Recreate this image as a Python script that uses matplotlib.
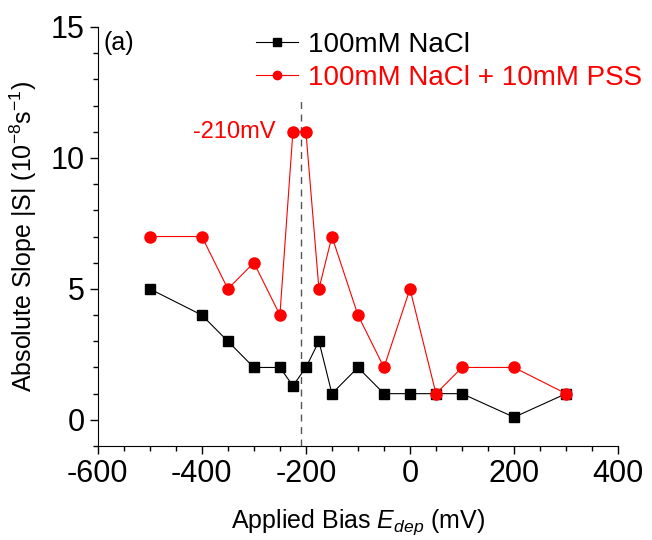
import numpy as np
import matplotlib.pyplot as plt
from matplotlib.ticker import MultipleLocator

plt.rcParams['font.family'] = ['Liberation Sans', 'DejaVu Sans']
plt.rcParams['mathtext.fontset'] = 'custom'
plt.rcParams['mathtext.it'] = 'Liberation Sans:italic'
plt.rcParams['mathtext.rm'] = 'Liberation Sans'
plt.rcParams['axes.unicode_minus'] = False

# data
bias = [-500, -400, -350, -300, -250, -225, -200, -175, -150, -100, -50, 0, 50, 100, 200, 300]
slope_nacl = [5, 4, 3, 2, 2, 1.3, 2, 3, 1, 2, 1, 1, 1, 1, 0.1, 1]
slope_pss = [7, 7, 5, 6, 4, 11, 11, 5, 7, 4, 2, 5, 1, 2, 2, 1]
peak_bias = -210

fig = plt.figure(figsize=(6.52, 5.4), dpi=100)
ax = fig.add_axes([0.150, 0.174, 0.798, 0.776])

ax.vlines(peak_bias, -1, 12.3, color='#555555', lw=1, ls=(0, (5, 4)))
ax.plot(bias, slope_nacl, color='black', lw=0.8, marker='s', ms=7,
        label='100mM NaCl')
ax.plot(bias, slope_pss, color='red', lw=0.8, marker='o', ms=8,
        label='100mM NaCl + 10mM PSS')

ax.set_xlim(-600, 400)
ax.set_ylim(-1, 15)
ax.xaxis.set_major_locator(MultipleLocator(200))
ax.xaxis.set_minor_locator(MultipleLocator(50))
ax.yaxis.set_major_locator(MultipleLocator(5))
ax.yaxis.set_minor_locator(MultipleLocator(1))
ax.tick_params(which='major', direction='out', length=6, width=1, labelsize=22)
ax.tick_params(which='minor', direction='out', length=3.5, width=1)
for s in ['top', 'right']:
    ax.spines[s].set_visible(False)

ax.set_xlabel('Applied Bias $E_{dep}$ (mV)', fontsize=18, labelpad=13)
ax.set_ylabel('Absolute Slope |S| (10$^{-8}$s$^{-1}$)', fontsize=18, labelpad=8)

ax.text(0.01, 0.99, '(a)', transform=ax.transAxes, fontsize=18, va='top', ha='left')
ax.text(-258, 11, '-210mV', color='red', fontsize=17, ha='right', va='center')

leg = ax.legend(loc='upper left', bbox_to_anchor=(0.304, 0.988), frameon=False,
                fontsize=20, handlelength=1.5, handletextpad=0.36,
                labelspacing=0.25, borderaxespad=0, borderpad=0)
for txt, c in zip(leg.get_texts(), ['black', 'red']):
    txt.set_color(c)
for h in leg.legend_handles:
    h.set_markersize(6)

fig.savefig('out.png', dpi=100)
